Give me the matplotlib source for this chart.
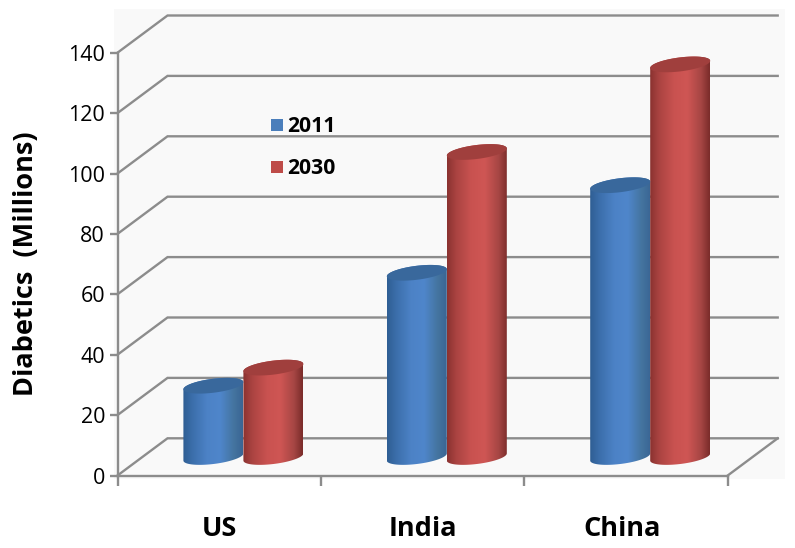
import numpy as np
import matplotlib
matplotlib.use("Agg")
import matplotlib.pyplot as plt
from matplotlib.colors import LinearSegmentedColormap
from matplotlib.lines import Line2D
from matplotlib.patches import Polygon, Rectangle

categories = ["US", "India", "China"]
years = ["2011", "2030"]
values_2011 = [23.6, 61, 90]
values_2030 = [29.6, 101, 130]
y_ticks = [0, 20, 40, 60, 80, 100, 120, 140]

FONT = ["Open Sans", "DejaVu Sans"]
plt.rcParams["font.family"] = FONT
W, H = 795, 548
GREY = "#8c8c8c"
L, R, Y0, YT = 117.5, 727.7, 475.5, 52.7

fig = plt.figure(figsize=(W / 100, H / 100), dpi=100)
fig.add_artist(Rectangle((114 / W, 1 - 479 / H), 671 / W, 470 / H,
                         transform=fig.transFigure, fc="#f9f9f9", ec="none", zorder=-5))
ax = fig.add_axes([L / W, 1 - Y0 / H, (R - L) / W, (Y0 - YT) / H])
ax.patch.set_alpha(0)
ax.set_xlim(0, 3)
ax.set_ylim(0, 140)
PX = (R - L) / 3
PY = (Y0 - YT) / 140
DX, DY = 50 / PX, 37.2 / PY
LW = 1.7

for s in ("top", "right"):
    ax.spines[s].set_visible(False)
for s in ("left", "bottom"):
    ax.spines[s].set_color(GREY)
    ax.spines[s].set_linewidth(LW)

# walls / gridlines
for v in y_ticks:
    ax.plot([0, DX, 3 + DX], [v, v + DY, v + DY], color=GREY, lw=LW, clip_on=False, zorder=1,
            solid_joinstyle="miter")
ax.plot([3, 3 + DX], [0, DY], color=GREY, lw=LW, clip_on=False, zorder=1)

ax.set_yticks(y_ticks)
ax.tick_params(axis="y", length=6, width=LW, color=GREY, labelsize=15.5, pad=3, labelcolor="black")
ax.set_xticks([0, 1, 2, 3])
ax.set_xticklabels([])
ax.tick_params(axis="x", which="major", length=7.5, width=LW, color=GREY)
ax.set_xticks([0.5, 1.5, 2.48], minor=True)
ax.set_xticklabels(categories, minor=True, fontsize=19.5, fontweight="bold")
ax.tick_params(axis="x", which="minor", length=0, pad=29)
ax.set_ylabel("Diabetics  (Millions)", fontsize=19.5, fontweight="bold")
ax.yaxis.set_label_coords((39 - L) / (R - L), (Y0 - 264) / (Y0 - YT))

# cylinders
blue = LinearSegmentedColormap.from_list("b", [(0, "#2f5e93"), (.15, "#3b6eaa"), (.4, "#4c82c6"),
                                               (.62, "#4f86cb"), (.85, "#44749f"), (1, "#3a6594")])
red = LinearSegmentedColormap.from_list("r", [(0, "#8a3230"), (.15, "#aa4341"), (.4, "#c95250"),
                                              (.62, "#cf5654"), (.85, "#a64644"), (1, "#7a2c2a")])
WID = 60.0 / PX
BASE = (Y0 - 457) / PY
A, B, SH = WID / 2, 7.0 / PY, 0.12 * 29.75 / PY
grad = np.linspace(0, 1, 256)[None, :]


def outline(cx, v, t):
    return np.c_[cx + A * np.cos(t), v + B * np.sin(t) + SH * np.cos(t)]


def cylinder(cx, v, cmap, top):
    t_up = np.linspace(0, np.pi, 60)
    t_dn = np.linspace(np.pi, 2 * np.pi, 60)
    ybot, ytop = BASE, BASE + v
    body = np.r_[outline(cx, ytop, t_up), outline(cx, ybot, t_dn)]
    im = ax.imshow(grad, cmap=cmap, aspect="auto", zorder=3, interpolation="bilinear",
                   extent=(cx - A, cx + A, ybot - B - SH, ytop + B + SH))
    poly = Polygon(body, closed=True, transform=ax.transData, fc="none", ec="none")
    ax.add_patch(poly)
    im.set_clip_path(poly)
    ax.add_patch(Polygon(outline(cx, ytop, np.linspace(0, 2 * np.pi, 120)), closed=True,
                         fc=top, ec="none", zorder=3.1))


for i in range(len(categories)):
    c = i + 0.619
    cylinder(c - WID / 2, values_2011[i], blue, "#39689c")
    cylinder(c + WID / 2, values_2030[i], red, "#a03f3d")

ax.set_xlim(0, 3)
ax.set_ylim(0, 140)

handles = [Line2D([], [], ls="none", marker="s", ms=9.2, mew=0, color=c) for c in ("#4a7ebb", "#be4b48")]
leg = ax.legend(handles, years, loc="upper left", frameon=False, handlelength=1, handletextpad=0.02,
                labelspacing=0.98, borderpad=0, borderaxespad=0,
                bbox_to_anchor=((266 - L) / (R - L), (Y0 - 116.5) / (Y0 - YT)),
                prop={"family": FONT, "weight": "bold", "size": 15.2})
leg.set_zorder(5)

fig.savefig("out.png", dpi=100)
